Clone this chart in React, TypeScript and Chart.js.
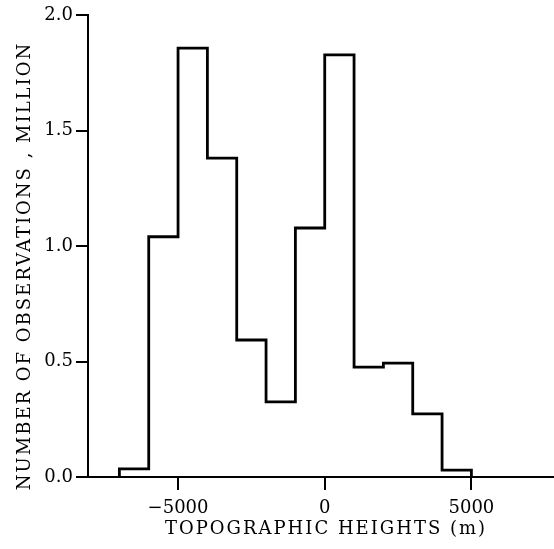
import React, { useEffect, useRef } from 'react';
import { Chart, registerables } from 'chart.js';

Chart.register(...registerables);

// Histogram bin edges (m) and counts (million observations)
const binEdges = [-7000, -6000, -5000, -4000, -3000, -2000, -1000, 0, 1000, 2000, 3000, 4000, 5000];
const counts = [0.035, 1.04, 1.857, 1.38, 0.593, 0.325, 1.078, 1.827, 0.476, 0.493, 0.273, 0.03];
const xTickValues = [-5000, 0, 5000];
const yTickValues = [0, 0.5, 1.0, 1.5, 2.0];
const xTitle = 'TOPOGRAPHIC HEIGHTS (m)';
const yTitle = 'NUMBER OF OBSERVATIONS , MILLION';

const FONT = 'DejaVu Serif';
const TITLE_FONT = '18px "DejaVu Serif"';

// Axis titles drawn with letter spacing (typewriter-like spacing of the original)
const axisTitlePlugin = {
  id: 'axisTitles',
  afterDraw(chart: any) {
    const { ctx, chartArea } = chart;
    ctx.save();
    try {
      ctx.letterSpacing = '2px';
    } catch (e) {}
    ctx.fillStyle = '#000';
    ctx.font = TITLE_FONT;
    ctx.textAlign = 'center';
    ctx.textBaseline = 'middle';
    // x title
    ctx.fillText(xTitle, (chartArea.left + chartArea.right) / 2 + 5, chartArea.bottom + 52);
    // y title
    ctx.translate(25, (chartArea.top + chartArea.bottom) / 2 + 20);
    ctx.rotate(-Math.PI / 2);
    ctx.fillText(yTitle, 0, 0);
    ctx.restore();
  },
};

export default function App() {
  const ref = useRef<HTMLCanvasElement | null>(null);

  useEffect(() => {
    if (!ref.current) return;
    const pts = [
      { x: binEdges[0], y: 0 },
      ...counts.map((c, i) => ({ x: binEdges[i], y: c })),
      { x: binEdges[binEdges.length - 1], y: 0 },
    ];
    const chart = new Chart(ref.current, {
      type: 'line',
      data: {
        datasets: [
          {
            data: pts,
            stepped: 'before',
            borderColor: '#000',
            borderWidth: 2.8,
            pointRadius: 0,
            fill: false,
            clip: false as any,
          },
        ],
      },
      plugins: [axisTitlePlugin],
      options: {
        animation: false,
        responsive: false,
        maintainAspectRatio: false,
        layout: { padding: { top: 15, right: 0, left: 0, bottom: 0 } },
        plugins: { legend: { display: false }, tooltip: { enabled: false } },
        scales: {
          x: {
            type: 'linear',
            min: -8070,
            max: 7816,
            afterBuildTicks: (s: any) => {
              s.ticks = xTickValues.map((v) => ({ value: v }));
            },
            afterFit: (s: any) => {
              s.height = 72;
            },
            border: { display: true, color: '#000', width: 2 },
            grid: { drawOnChartArea: false, drawTicks: true, tickLength: 13, color: '#000', lineWidth: 2 },
            ticks: {
              color: '#000',
              padding: 8,
              maxRotation: 0,
              autoSkip: false,
              font: { family: FONT, size: 18 },
              callback: (v: any) => String(v).replace('-', '\u2212'),
            },
            title: { display: false, text: xTitle },
          },
          y: {
            type: 'linear',
            min: 0,
            max: 2,
            afterBuildTicks: (s: any) => {
              s.ticks = yTickValues.map((v) => ({ value: v }));
            },
            afterFit: (s: any) => {
              s.width = 88;
            },
            border: { display: true, color: '#000', width: 2 },
            grid: { drawOnChartArea: false, drawTicks: true, tickLength: 12, color: '#000', lineWidth: 2 },
            ticks: {
              color: '#000',
              padding: 3,
              autoSkip: false,
              font: { family: FONT, size: 18 },
              callback: (v: any) => Number(v).toFixed(1),
            },
            title: { display: false, text: yTitle },
          },
        },
      },
    });
    return () => chart.destroy();
  }, []);

  return (
    <div style={{ position: 'absolute', left: 0, top: 0, width: 554, height: 549, background: '#fff' }}>
      <canvas ref={ref} width={554} height={549} style={{ width: 554, height: 549 }} />
    </div>
  );
}
